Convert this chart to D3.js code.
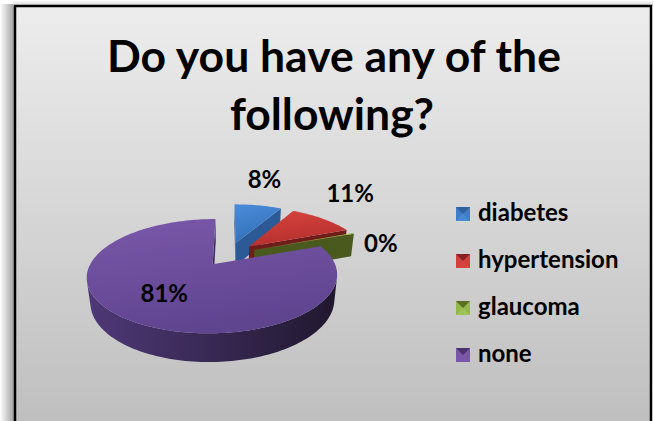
<!DOCTYPE html>
<html>
<head>
<meta charset="utf-8">
<script src="https://cdn.jsdelivr.net/npm/d3@7"></script>
<style>
  body { margin: 0; background: #ffffff; }
  svg { display: block; }
  text { font-family: Lato, "Open Sans", sans-serif; font-weight: bold; fill: #000; }
</style>
</head>
<body>
<div id="chart"></div>
<script>
"use strict";

// data
var titleLines = ["Do you have any of the", "following?"];
var categories = ["diabetes", "hypertension", "glaucoma", "none"];
var values = [8, 11, 0.3, 81];

// palette: [top light, top dark, side face, rim light, rim dark, legend]
var palette = [
    ["#4b8cd9", "#3270b9", "#2b5a96", "#3266a8", "#214a80", "#3f7dc8"],
    ["#d9443f", "#b5302d", "#701c1a", "#9e2b28", "#6a1816", "#d0403c"],
    ["#a3c35e", "#7e9b3c", "#4a5a1e", "#5f7327", "#3e4b15", "#94b74a"],
    ["#7b58aa", "#5f4490", "#3d2b5c", "#4f3978", "#1f172c", "#7a56a8"]
];

var width = 654, height = 421;

// 3d projection of the pie (ground x, ground z = depth, h = height)
var F = 518, D = 4.51, phi = Math.asin(0.47), cx = 229, cy = 278;
var depth = 0.23, explode = 0.235;
var cam = [0, -D * Math.cos(phi)];

function project(gx, gz, h) {
    var v = gz * Math.sin(phi) + h * Math.cos(phi);
    var w = D + gz * Math.cos(phi) - h * Math.sin(phi);
    return [cx + F * gx / w, cy - F * v / w];
}

var svg = d3.select("#chart").append("svg")
    .attr("width", width)
    .attr("height", height);

var defs = svg.append("defs");

var bg = defs.append("linearGradient").attr("id", "bg")
    .attr("x1", 0).attr("y1", 0).attr("x2", 0).attr("y2", 1);
bg.append("stop").attr("offset", 0).attr("stop-color", "#ededed");
bg.append("stop").attr("offset", 1).attr("stop-color", "#bdbdbd");

var shL = defs.append("linearGradient").attr("id", "shadowL")
    .attr("x1", 0).attr("y1", 0).attr("x2", 1).attr("y2", 0);
shL.append("stop").attr("offset", 0).attr("stop-color", "#ffffff");
shL.append("stop").attr("offset", 1).attr("stop-color", "#9a9a9a");

var shT = defs.append("linearGradient").attr("id", "shadowT")
    .attr("x1", 0).attr("y1", 0).attr("x2", 0).attr("y2", 1);
shT.append("stop").attr("offset", 0).attr("stop-color", "#ffffff");
shT.append("stop").attr("offset", 1).attr("stop-color", "#d4d4d4");

palette.forEach(function (c, i) {
    var g = defs.append("linearGradient").attr("id", "top" + i)
        .attr("x1", 0).attr("y1", 0).attr("x2", 0.3).attr("y2", 1);
    g.append("stop").attr("offset", 0).attr("stop-color", c[0]);
    g.append("stop").attr("offset", 1).attr("stop-color", c[1]);
    var r = defs.append("linearGradient").attr("id", "rim" + i)
        .attr("gradientUnits", "userSpaceOnUse")
        .attr("x1", 85).attr("y1", 0).attr("x2", 345).attr("y2", 0);
    r.append("stop").attr("offset", 0).attr("stop-color", c[3]);
    r.append("stop").attr("offset", 1).attr("stop-color", c[4]);
});

// chart frame with soft shadow
svg.append("rect").attr("x", 0).attr("y", 4).attr("width", 15).attr("height", height)
    .attr("fill", "url(#shadowL)");
svg.append("rect").attr("x", 13).attr("y", 0).attr("width", 640).attr("height", 6)
    .attr("fill", "url(#shadowT)");
svg.append("rect")
    .attr("x", 15).attr("y", 6)
    .attr("width", 636).attr("height", height + 10)
    .attr("fill", "url(#bg)")
    .attr("stroke", "#000")
    .attr("stroke-width", 2.5);

// title
var title = svg.append("g").attr("class", "title");
var t1 = title.append("text")
    .attr("x", 334).attr("y", 72)
    .attr("text-anchor", "middle")
    .style("font-size", "36px")
    .text(titleLines[0]);
var fitScale = 454 / t1.node().getComputedTextLength();
var titleSize = 36 * fitScale;
t1.style("font-size", titleSize + "px");
title.append("text")
    .attr("x", 332).attr("y", 130)
    .attr("text-anchor", "middle")
    .style("font-size", titleSize + "px")
    .text(titleLines[1]);

// pie
var total = d3.sum(values);
var arcs = d3.pie().sort(null).value(function (d) { return d; })(values);

var slices = arcs.map(function (a, i) {
    var m = (a.startAngle + a.endAngle) / 2;
    return {
        i: i, a0: a.startAngle, a1: a.endAngle, m: m, value: a.value,
        ox: explode * Math.sin(m), oz: explode * Math.cos(m)
    };
});

function rimPoint(s, t, r, h) {
    return project(s.ox + r * Math.sin(t), s.oz + r * Math.cos(t), h);
}
function arcPts(s, from, to, r, h) {
    var n = Math.max(1, Math.ceil((to - from) / (Math.PI / 120)));
    return d3.range(n + 1).map(function (k) {
        return rimPoint(s, from + (to - from) * k / n, r, h);
    });
}
var line = d3.line();
function poly(pts) { return line(pts) + "Z"; }

var order = slices.slice().sort(function (a, b) {
    return (b.oz + 0.5 * Math.cos(b.m)) - (a.oz + 0.5 * Math.cos(a.m));
});

var pieG = svg.append("g").attr("class", "pie");

order.forEach(function (s) {
    var g = pieG.append("g");
    var c = palette[s.i];
    var apexTop = project(s.ox, s.oz, depth), apexBot = project(s.ox, s.oz, 0);
    var toCam = [cam[0] - s.ox, cam[1] - s.oz];

    // radial cut faces
    [[s.a0, -Math.cos(s.a0), Math.sin(s.a0)], [s.a1, Math.cos(s.a1), -Math.sin(s.a1)]]
        .forEach(function (f) {
            if (f[1] * toCam[0] + f[2] * toCam[1] <= 0) return;
            g.append("path")
                .attr("d", poly([apexTop, apexBot, rimPoint(s, f[0], 1, 0), rimPoint(s, f[0], 1, depth)]))
                .attr("fill", c[2]);
        });

    // outer rim, visible runs only
    var n = Math.max(1, Math.ceil((s.a1 - s.a0) / (Math.PI / 120)));
    var runs = [], cur = null;
    for (var k = 0; k < n; k++) {
        var ta = s.a0 + (s.a1 - s.a0) * k / n, tb = s.a0 + (s.a1 - s.a0) * (k + 1) / n;
        var tm = (ta + tb) / 2;
        var px = s.ox + Math.sin(tm), pz = s.oz + Math.cos(tm);
        var vis = Math.sin(tm) * (cam[0] - px) + Math.cos(tm) * (cam[1] - pz) > 0;
        if (vis) {
            if (!cur) { cur = [ta, tb]; runs.push(cur); } else { cur[1] = tb; }
        } else {
            cur = null;
        }
    }
    runs.forEach(function (r) {
        g.append("path")
            .attr("d", poly(arcPts(s, r[0], r[1], 1, depth).concat(arcPts(s, r[0], r[1], 1, 0).reverse())))
            .attr("fill", "url(#rim" + s.i + ")");
    });

    // top face
    g.append("path")
        .attr("d", poly([apexTop].concat(arcPts(s, s.a0, s.a1, 1, depth))))
        .attr("fill", "url(#top" + s.i + ")");
});

// data labels
var labelG = svg.append("g").attr("class", "labels");
slices.forEach(function (s) {
    var pct = Math.round(s.value / total * 100) + "%";
    var txt = labelG.append("text")
        .attr("text-anchor", "middle")
        .style("font-size", "24px")
        .text(pct);
    var pos;
    if (s.value / total > 0.5) {
        pos = rimPoint(s, s.m, 0.6, depth);
    } else {
        var h = s.value / total < 0.01 ? 0 : depth;
        var p = rimPoint(s, s.m, 1, h);
        var dx = Math.sin(s.m), dy = -Math.cos(s.m);
        var halfW = txt.node().getComputedTextLength() / 2;
        var off = 14 + Math.abs(dx) * halfW + Math.abs(dy) * 8;
        pos = [p[0] + dx * off, p[1] + dy * off];
    }
    txt.attr("x", pos[0]).attr("y", pos[1] + 8);
});

// legend
var legend = svg.append("g").attr("class", "legend")
    .selectAll("g")
    .data(categories)
    .enter().append("g")
    .attr("transform", function (d, i) { return "translate(456," + (221 + i * 47) + ")"; });

var sq = 14;
legend.append("rect")
    .attr("x", 0).attr("y", -sq)
    .attr("width", sq).attr("height", sq)
    .attr("fill", function (d, i) { return palette[i][5]; });
legend.append("path")
    .attr("d", "M0," + (-sq) + "L" + sq + "," + (-sq) + "L" + (sq / 2) + "," + (-sq / 2) + "Z")
    .attr("fill", function (d, i) { return palette[i][2]; })
    .attr("opacity", 0.8);
legend.append("path")
    .attr("d", "M0,0L" + sq + ",0L" + (sq / 2) + "," + (-sq / 2) + "Z")
    .attr("fill", function (d, i) { return palette[i][0]; })
    .attr("opacity", 0.8);
legend.append("text")
    .attr("x", 22).attr("y", 0)
    .style("font-size", "24px")
    .text(function (d) { return d; });
</script>
</body>
</html>
